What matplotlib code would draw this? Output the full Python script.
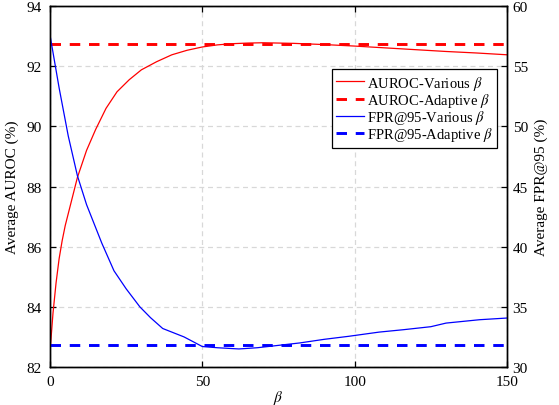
import matplotlib
matplotlib.use('Agg')
import matplotlib.pyplot as plt

# AUROC with various beta (left axis)
beta_auroc = [0, 1, 2, 3, 4, 5, 7, 9, 12, 15, 18.4, 22, 26, 30, 35, 40, 45, 50,
              55, 60, 65, 70, 75, 80, 90, 100, 110, 120, 130, 140, 150]
auroc_various = [82.5, 83.8, 84.8, 85.6, 86.2, 86.7, 87.5, 88.3, 89.2, 89.9,
                 90.6, 91.15, 91.55, 91.88, 92.15, 92.38, 92.53, 92.64, 92.71,
                 92.75, 92.77, 92.78, 92.77, 92.76, 92.72, 92.67, 92.61, 92.55,
                 92.49, 92.44, 92.38]
auroc_adaptive = 92.73

# FPR@95 with various beta (right axis)
beta_fpr = [0, 3, 6, 9, 12, 14.5, 17, 21, 25, 29.5, 33, 37, 44, 50, 55, 62, 68,
            74, 82, 90, 98, 108, 116, 125, 130, 141, 150]
fpr_various = [57.6, 53.2, 49.2, 45.9, 43.5, 41.9, 40.3, 38.0, 36.5, 35.0, 34.1,
               33.2, 32.5, 31.7, 31.6, 31.5, 31.6, 31.77, 32.0, 32.3, 32.55,
               32.9, 33.1, 33.35, 33.65, 33.93, 34.07]
fpr_adaptive = 31.85

x_range = [0, 150]


def main():
    plt.rcParams['font.family'] = ['Liberation Serif', 'DejaVu Serif']
    plt.rcParams['mathtext.fontset'] = 'stix'
    plt.rcParams['font.size'] = 10.5

    fig = plt.figure(figsize=(5.59, 4.06), dpi=100)
    ax = fig.add_axes([0.0894, 0.0936, 0.8176, 0.889])
    ax2 = ax.twinx()

    l1, = ax.plot(beta_auroc, auroc_various, color='#ff0000', lw=0.9,
                  label=r'AUROC-Various $\beta$')
    l2, = ax.plot(x_range, [auroc_adaptive] * 2, color='#ff0000', lw=2.1,
                  ls=(0, (3.6, 3.0)), label=r'AUROC-Adaptive $\beta$')
    l3, = ax2.plot(beta_fpr, fpr_various, color='#0000ff', lw=0.9,
                   label=r'FPR@95-Various $\beta$')
    l4, = ax2.plot(x_range, [fpr_adaptive] * 2, color='#0000ff', lw=2.1,
                   ls=(0, (3.6, 3.0)), label=r'FPR@95-Adaptive $\beta$')

    ax.set_xlim(0, 150)
    ax.set_ylim(82, 94)
    ax2.set_ylim(30, 60)
    ax.set_xticks([0, 50, 100, 150])
    ax.set_yticks([82, 84, 86, 88, 90, 92, 94])
    ax2.set_yticks([30, 35, 40, 45, 50, 55, 60])

    ax.grid(True, color='#d8d8d8', ls=(0, (4, 3)), lw=0.9)
    ax.set_axisbelow(True)

    ax.tick_params(direction='in', top=True, right=False, length=4, width=0.9,
                   pad=6, labelsize=11)
    ax2.tick_params(direction='in', length=4, width=0.9, pad=4, labelsize=11)
    for a in (ax, ax2):
        for s in a.spines.values():
            s.set_linewidth(1.0)

    ax.set_xlabel(r'$\beta$', labelpad=0, fontsize=11)
    ax.set_ylabel('Average AUROC (%)', labelpad=5, fontsize=11)
    ax2.set_ylabel('Average FPR@95 (%)', labelpad=5, fontsize=11)

    leg = ax2.legend(handles=[l1, l2, l3, l4], loc='upper right',
                     bbox_to_anchor=(0.978, 0.825), fancybox=False,
                     edgecolor='black', framealpha=1, fontsize=10.5,
                     handlelength=1.9, handletextpad=0.2, borderpad=0.3,
                     labelspacing=-0.05, borderaxespad=0)
    leg.get_frame().set_linewidth(0.9)

    fig.savefig('out.png', dpi=100)


if __name__ == '__main__':
    main()
